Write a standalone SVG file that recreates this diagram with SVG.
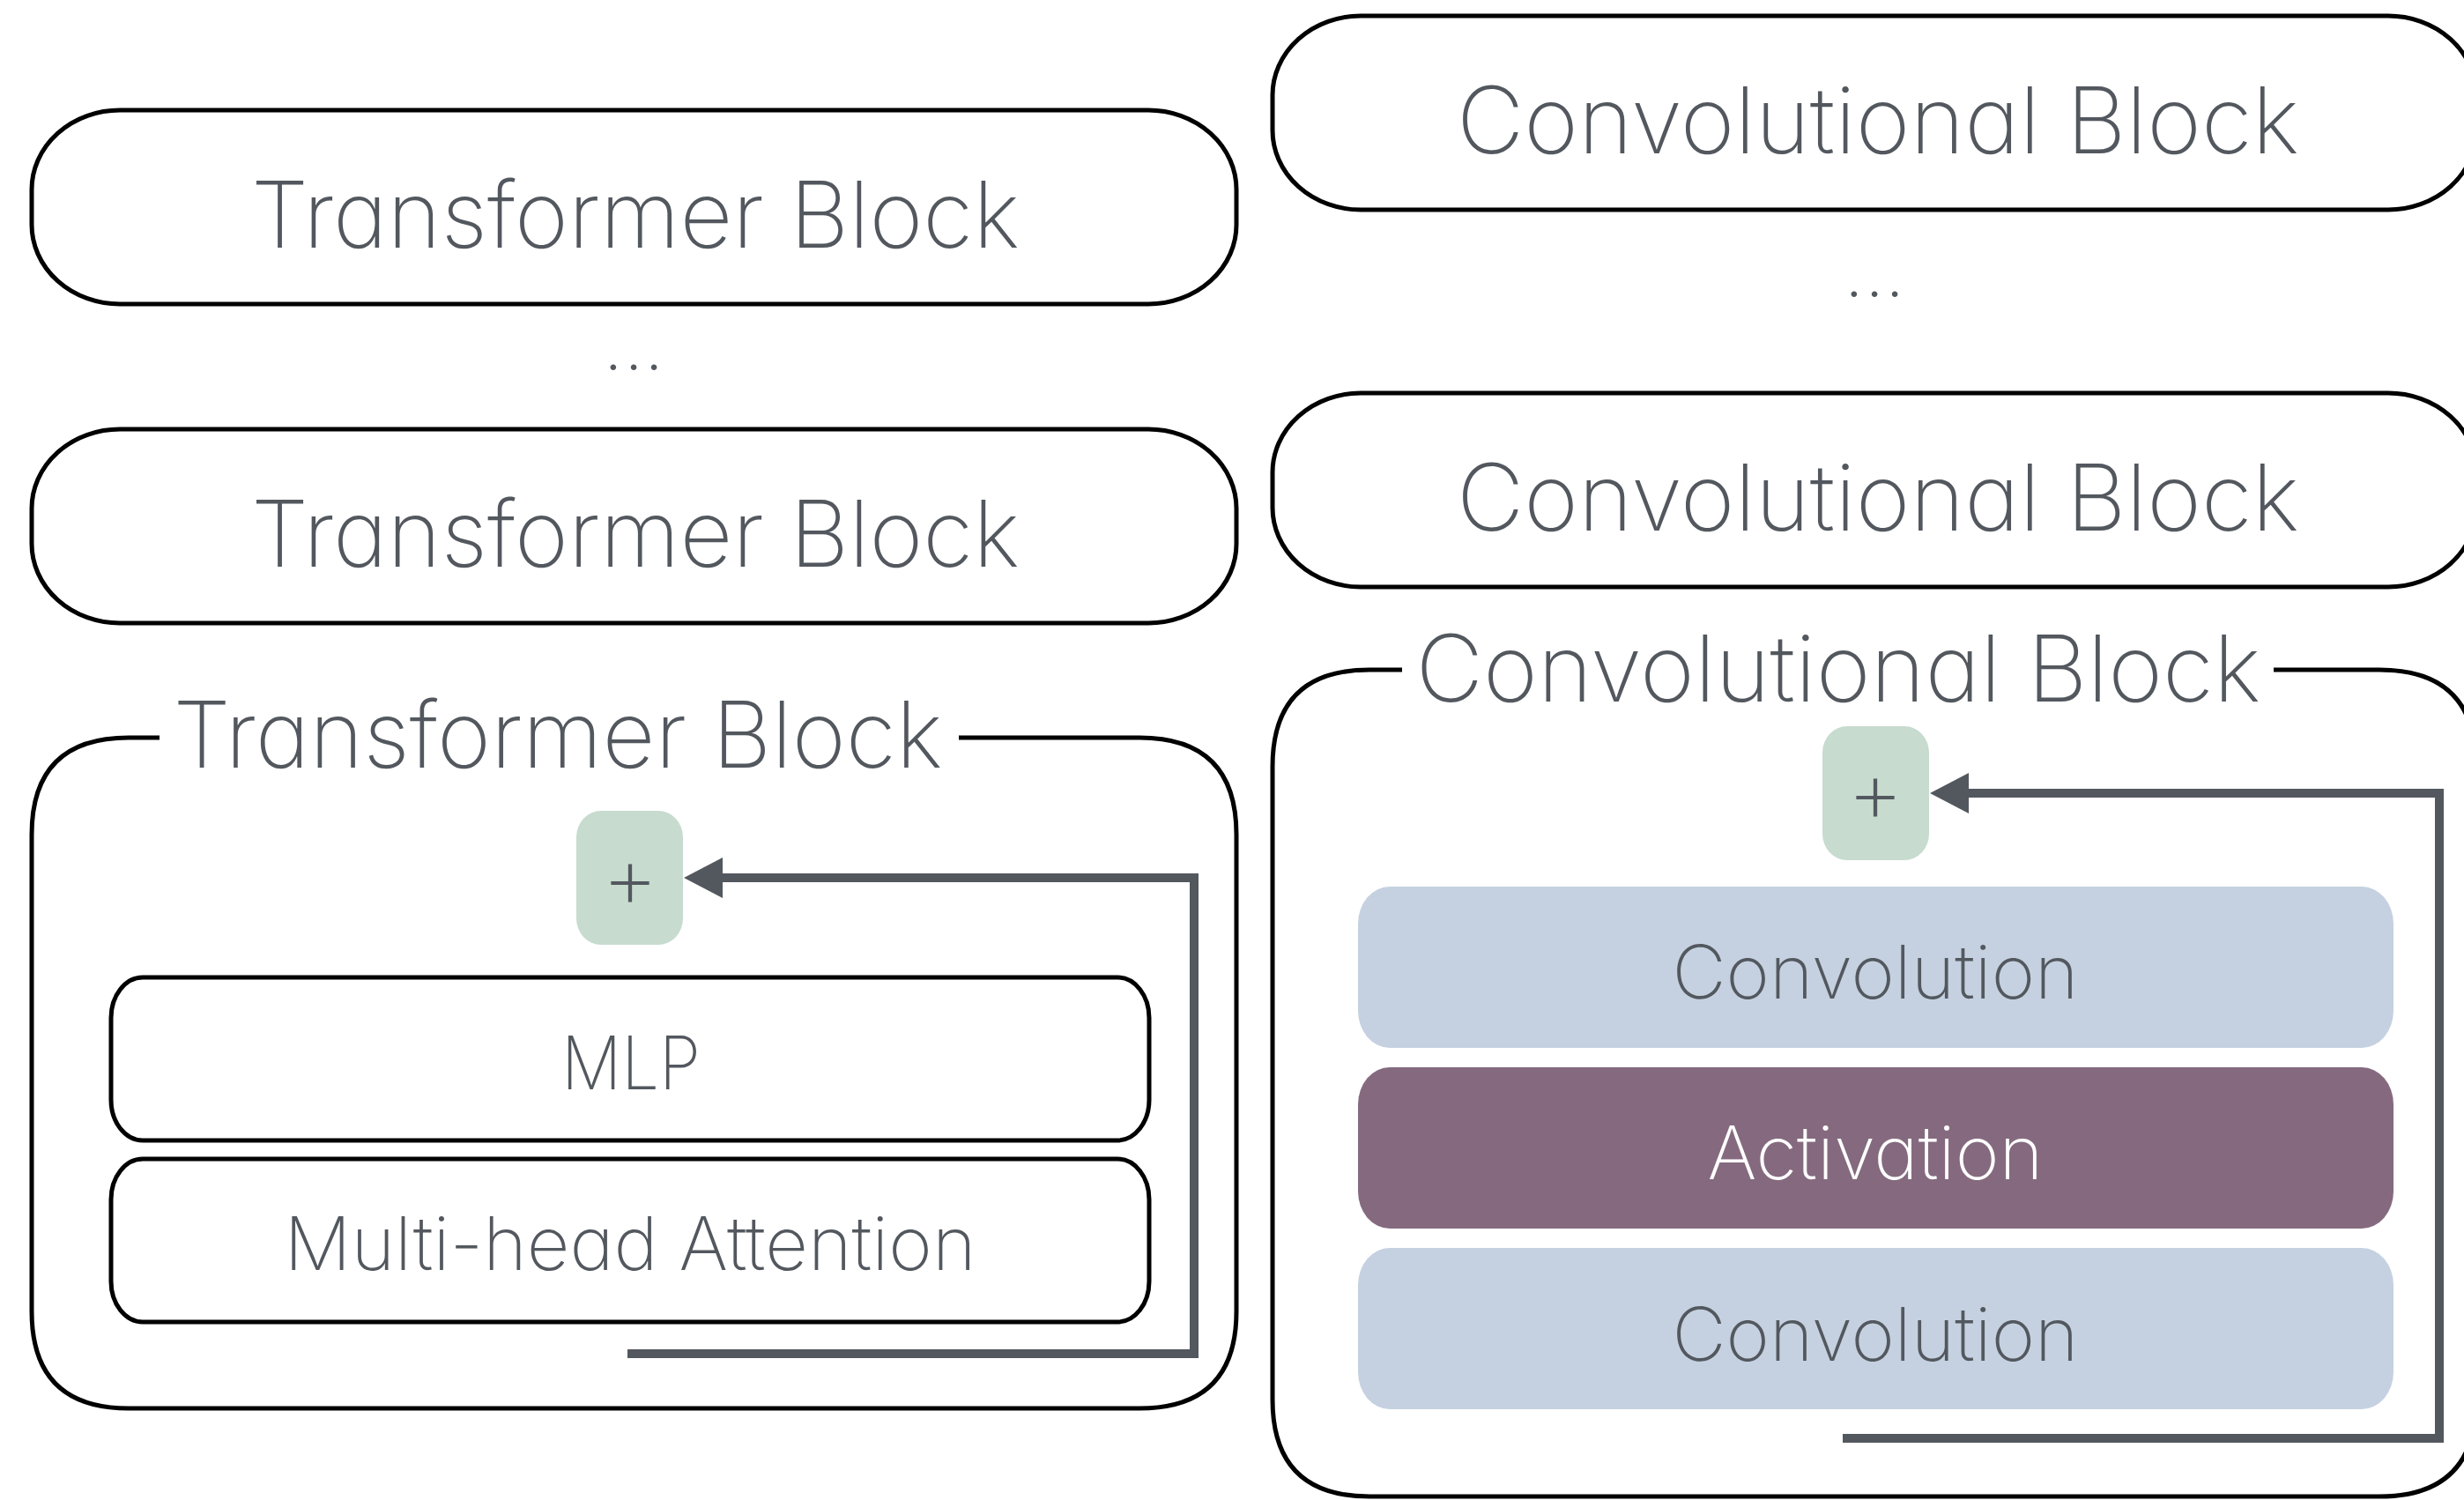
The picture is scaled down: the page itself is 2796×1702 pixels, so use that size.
<svg xmlns="http://www.w3.org/2000/svg" width="2796" height="1702" viewBox="0 0 2796 1702">
  <defs>
    <style>
      .frame { fill: #ffffff; stroke: #000000; stroke-width: 5; }
      .open { fill: none; stroke: #000000; stroke-width: 5; }
      .label { font-family: Inter, "Liberation Sans", sans-serif; font-weight: 250; fill: #53585f; text-anchor: middle; font-feature-settings: "cv11" 1; }
      .title { font-size: 105px; }
      .inner { font-size: 84px; }
      .plus { font-size: 100px; }
      .conv { fill: #c5d1e0; }
      .act { fill: #856a7f; }
      .add { fill: #c7dbcf; }
      .light { fill: #ffffff; }
      .link { fill: none; stroke: #53585f; stroke-width: 10; stroke-linejoin: miter; stroke-linecap: butt; }
    </style>
    <marker id="arrow" markerUnits="userSpaceOnUse" viewBox="0 0 44 46" refX="0" refY="23" markerWidth="44" markerHeight="46" orient="auto">
      <path d="M0,0 L44,23 L0,46 Z" fill="#53585f"/>
    </marker>
  </defs>

  <rect width="2796" height="1702" fill="#ffffff"/>

  <!-- Transformer stack -->
  <g id="transformer-block-top">
    <rect class="frame" x="36" y="125" width="1367" height="220" rx="100" ry="90"/>
    <text class="label title" x="721" y="281" textLength="872" lengthAdjust="spacingAndGlyphs">Transformer Block</text>
  </g>
  <g id="transformer-ellipsis">
    <text class="label inner" x="719" y="420">...</text>
  </g>
  <g id="transformer-block-mid">
    <rect class="frame" x="36" y="487" width="1367" height="220" rx="100" ry="90"/>
    <text class="label title" x="721" y="643" textLength="872" lengthAdjust="spacingAndGlyphs">Transformer Block</text>
  </g>
  <g id="transformer-block-detail">
    <path class="open" d="M1088,837 H1293 Q1403,837 1403,947 V1488 Q1403,1598 1293,1598 H146 Q36,1598 36,1488 V947 Q36,837 146,837 H181"/>
    <text class="label title" x="633" y="871" textLength="873" lengthAdjust="spacingAndGlyphs">Transformer Block</text>
  </g>
  <g id="transformer-add">
    <rect class="add" x="654" y="920" width="121" height="152" rx="28" ry="30"/>
    <text class="label plus" x="715" y="1030">+</text>
  </g>
  <g id="mlp">
    <rect class="frame" x="126" y="1109" width="1178" height="185" rx="36" ry="46"/>
    <text class="label inner" x="716" y="1236" textLength="158" lengthAdjust="spacingAndGlyphs">MLP</text>
  </g>
  <g id="attention">
    <rect class="frame" x="126" y="1315" width="1178" height="185" rx="36" ry="46"/>
    <text class="label inner" x="715" y="1441" textLength="785" lengthAdjust="spacingAndGlyphs">Multi-head Attention</text>
  </g>

  <!-- Convolutional stack -->
  <g id="conv-block-top">
    <rect class="frame" x="1444" y="18" width="1366" height="220" rx="100" ry="90"/>
    <text class="label title" x="2131" y="174" textLength="956" lengthAdjust="spacingAndGlyphs">Convolutional Block</text>
  </g>
  <g id="conv-ellipsis">
    <text class="label inner" x="2127" y="337">...</text>
  </g>
  <g id="conv-block-mid">
    <rect class="frame" x="1444" y="446" width="1366" height="220" rx="100" ry="90"/>
    <text class="label title" x="2131" y="602" textLength="956" lengthAdjust="spacingAndGlyphs">Convolutional Block</text>
  </g>
  <g id="conv-block-detail">
    <path class="open" d="M2580,760 H2700 Q2810,760 2810,870 V1588 Q2810,1698 2700,1698 H1554 Q1444,1698 1444,1588 V870 Q1444,760 1554,760 H1591"/>
    <text class="label title" x="2086" y="796" textLength="959" lengthAdjust="spacingAndGlyphs">Convolutional Block</text>
  </g>
  <g id="conv-add">
    <rect class="add" x="2068" y="824" width="121" height="152" rx="28" ry="30"/>
    <text class="label plus" x="2128" y="933">+</text>
  </g>
  <g id="convolution-upper">
    <rect class="conv" x="1541" y="1006" width="1175" height="183" rx="36" ry="42"/>
    <text class="label inner" x="2128" y="1133" textLength="461" lengthAdjust="spacingAndGlyphs">Convolution</text>
  </g>
  <g id="activation">
    <rect class="act" x="1541" y="1211" width="1175" height="183" rx="36" ry="42"/>
    <text class="label inner light" x="2128" y="1338" textLength="381" lengthAdjust="spacingAndGlyphs">Activation</text>
  </g>
  <g id="convolution-lower">
    <rect class="conv" x="1541" y="1416" width="1175" height="183" rx="36" ry="42"/>
    <text class="label inner" x="2128" y="1544" textLength="461" lengthAdjust="spacingAndGlyphs">Convolution</text>
  </g>

  <!-- Residual connections -->
  <g id="connectors">
    <path class="link" d="M712,1536 H1355 V996 H820" marker-end="url(#arrow)"/>
    <path class="link" d="M2091,1632 H2768 V900 H2234" marker-end="url(#arrow)"/>
  </g>
</svg>
